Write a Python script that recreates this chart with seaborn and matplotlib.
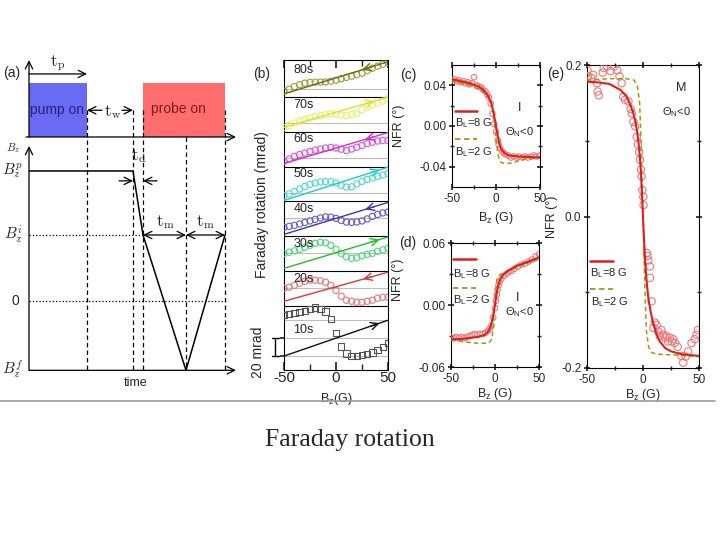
import numpy as np
import pandas as pd
import matplotlib
matplotlib.use('Agg')
import matplotlib.pyplot as plt
from matplotlib.lines import Line2D
import seaborn as sns

# ---------------- data ----------------
# (a) timing schematic: time in arbitrary units, field in units of B_z^i
pump_on = [0.0, 5.8]
probe_on = [11.4, 19.6]
t_wait_end = 10.4
t_turn = 15.7
t_axis_end = 20.7
b_final, b_zero, b_init, b_pump = -1.05, 0.0, 1.0, 1.97
pulse_base, pulse_top = 2.485, 3.30
field_t = [0.0, t_wait_end, probe_on[0], t_turn, probe_on[1]]
field_b = [b_pump, b_pump, b_init, b_final, b_init]

# (b) Faraday rotation traces (mrad, relative to the bottom of each strip)
b_field = [-50, -45, -40, -35, -30, -25, -20, -15, -10, -5, 0,
           5, 10, 15, 20, 25, 30, 35, 40, 45, 50]
b_labels = ['10s', '20s', '30s', '40s', '50s', '60s', '70s', '80s']
b_offsets = [0, 73, 113, 153, 193, 233, 273, 313]
b_traces = [
    [63, 64, 65, 66, 68, 70, 71.5, 70, 67, 58, 42, 27, 19, 16, 16, 17, 18, 20, 23, 26, 31],
    [20.6, 21.8, 24, 26.3, 28.6, 29.8, 29.8, 29.2, 27.5, 24, 18.3, 11.5, 6.9, 5.7, 4.6, 4.6, 5.7, 6.9, 9.2, 10.3, 10.3],
    [20.6, 21.8, 23.5, 25.2, 27.5, 29.8, 32.1, 33.2, 32.6, 29.8, 25.2, 20.6, 16.6, 14.9, 15.5, 17.7, 19.5, 20.6, 22.9, 24.6, 26.3],
    [10.3, 11.5, 12.6, 14.3, 16.0, 17.7, 19.5, 21.2, 22.3, 22.1, 20.6, 18.3, 16.4, 16.0, 16.6, 17.7, 20.0, 22.9, 25.2, 26.9, 27.8],
    [6.3, 8.6, 11.5, 14.3, 17.2, 19.5, 21.2, 22.3, 22.9, 22.9, 21.2, 18.3, 16.4, 16.8, 20.0, 22.9, 25.2, 26.9, 28.6, 30.3, 32.1],
    [6.3, 8.6, 11.5, 13.7, 15.5, 17.2, 18.9, 20.0, 21.2, 22.0, 21.2, 19.8, 18.3, 20.0, 22.0, 24.0, 26.3, 27.8, 29.2, 29.8, 29.8],
    [4.6, 6.9, 9.7, 12.0, 13.7, 15.5, 17.2, 18.3, 19.5, 20.6, 20.0, 18.9, 18.3, 19.5, 20.6, 25.2, 28.0, 30.3, 32.6, 34.9, 37.8],
    [6.3, 8.6, 11.5, 13.7, 15.5, 16.4, 16.6, 16.6, 16.9, 17.7, 18.9, 20.6, 22.1, 23.5, 25.2, 26.9, 29.8, 32.6, 34.9, 37.2, 39.3],
]
b_sweeps = [(16, 57), (5.7, 39), (3.4, 39.3), (2.3, 38.9), (1.1, 39.3), (3.4, 38.9), (4.9, 39.5), (3.1, 40)]
b_arrow_at = [42, 26, 42, 28, 42, 28, 37, 25]
b_arrow_dir = [1, -1, 1, -1, 1, -1, 1, -1]
b_grid = [16, 37, 57, 94, 134, 174, 203, 243, 283, 322]
b_mcolors = ['#555555', '#e87878', '#4cd97a', '#6a5acd', '#4fd8d8', '#dd55dd', '#eded66', '#9c9c40']
b_lcolors = ['#111111', '#d93a3a', '#22c322', '#3a3aaa', '#22cccc', '#cc33cc', '#e0e030', '#6b6b10']

# (c) NFR, I, B_L = 8 G data
c_x = [-50, -47, -45, -42, -40, -37, -35, -32, -30, -27, -25, -22, -20, -17, -15, -12, -10, -8, -6, -4,
       -2, 0, 2, 3, 5, 7, 9, 11, 14, 17, 20, 23, 26, 30, 33, 36, 40, 43, 46, 50]
c_y = [0.045, 0.046, 0.044, 0.045, 0.043, 0.044, 0.042, 0.043, 0.041, 0.042, 0.048, 0.040, 0.039, 0.038,
       0.036, 0.034, 0.031, 0.028, 0.022, 0.012, 0.002, -0.006, -0.014, -0.018, -0.022, -0.025, -0.027,
       -0.028, -0.029, -0.031, -0.030, -0.031, -0.030, -0.031, -0.030, -0.031, -0.030, -0.029, -0.030, -0.029]
c_fit_x = [-50, -40, -30, -20, -15, -10, -6, -3, 0, 2, 4, 6, 10, 15, 25, 50]
c_fit_y = [0.046, 0.044, 0.042, 0.039, 0.036, 0.031, 0.024, 0.014, 0.0, -0.010, -0.018, -0.023,
           -0.027, -0.029, -0.030, -0.031]
c_dash_x = [-50, -30, -15, -9, -6, -4, -2, 0, 2, 4, 6, 12, 20, 30, 50]
c_dash_y = [0.044, 0.040, 0.034, 0.030, 0.026, 0.018, 0.005, -0.012, -0.027, -0.034, -0.036, -0.037,
            -0.036, -0.033, -0.031]

# (d)
d_x = [-50, -47, -44, -41, -38, -35, -32, -29, -26, -23, -20, -17, -14, -11, -8, -6, -4, -2, 0, 1,
       2, 3, 4, 5, 7, 10, 13, 16, 19, 22, 26, 30, 34, 38, 42, 46, 50]
d_y = [-0.031, -0.032, -0.031, -0.032, -0.031, -0.032, -0.031, -0.030, -0.029, -0.028, -0.029, -0.028,
       -0.028, -0.027, -0.025, -0.023, -0.020, -0.012, -0.003, 0.004, 0.010, 0.015, 0.019, 0.022, 0.025,
       0.028, 0.030, 0.032, 0.033, 0.035, 0.037, 0.039, 0.040, 0.042, 0.044, 0.047, 0.049]
d_fit_x = [-50, -40, -30, -20, -12, -8, -5, -3, -1, 0, 2, 4, 6, 10, 15, 25, 35, 50]
d_fit_y = [-0.033, -0.033, -0.032, -0.031, -0.029, -0.026, -0.021, -0.014, -0.005, 0.0, 0.012, 0.020,
           0.025, 0.030, 0.033, 0.038, 0.041, 0.046]
d_dash_x = [-50, -30, -20, -8, -5, -3, -2, -1, 0, 1, 2, 3, 5, 10, 20, 35, 50]
d_dash_y = [-0.034, -0.036, -0.037, -0.037, -0.035, -0.030, -0.020, -0.008, 0.005, 0.016, 0.024, 0.027,
            0.029, 0.031, 0.035, 0.040, 0.044]

# (e)
e_x = [-49.5, -49, -46, -44.5, -41, -40.5, -39.5, -36, -35, -32, -29, -26, -23, -21, -19, -17.6, -16, -13,
       -11, -10, -8.5, -7, -5.6, -4.5, -3.5, -2.7, -1.8, -1.2, -0.6, 0.3, 0.5, 3.3, 4.2, 4.8, 6.2, 6.2,
       7.7, 9.2, 10.5, 12.2, 13.6, 15.1, 16.5, 18, 19.5, 21, 22.5, 24, 25.5, 27, 28.5, 31, 34.4, 35.9,
       38, 40.3, 43.3, 46.2, 47.7, 49]
e_y = [0.193, 0.185, 0.183, 0.187, 0.176, 0.165, 0.160, 0.190, 0.196, 0.198, 0.192, 0.198, 0.193, 0.185,
       0.176, 0.158, 0.154, 0.152, 0.142, 0.136, 0.125, 0.119, 0.105, 0.095, 0.085, 0.075, 0.062, 0.053,
       0.035, 0.026, 0.015, -0.048, -0.052, -0.058, -0.066, -0.081, -0.112, -0.147, -0.140, -0.143,
       -0.152, -0.158, -0.150, -0.156, -0.160, -0.158, -0.165, -0.160, -0.165, -0.162, -0.167, -0.172,
       -0.184, -0.193, -0.185, -0.178, -0.167, -0.162, -0.156, -0.150]
e_fit_x = [-50, -40, -30, -20, -15, -12, -9, -7, -5, -4, -3, -2, -1, 0, 1, 2, 3, 4, 5, 7, 9, 12, 15, 20, 25, 35, 50]
e_fit_y = [0.178, 0.177, 0.175, 0.167, 0.159, 0.150, 0.138, 0.127, 0.110, 0.097, 0.082, 0.062, 0.033, 0.0,
           -0.033, -0.061, -0.082, -0.097, -0.110, -0.127, -0.140, -0.155, -0.165, -0.174, -0.178, -0.182, -0.184]
e_dash_x = [-50, -30, -15, -8, -5, -3, -2, -1, 0, 1, 2, 3, 5, 8, 15, 30, 50]
e_dash_y = [0.180, 0.182, 0.182, 0.180, 0.172, 0.150, 0.110, 0.055, 0.0, -0.055, -0.110, -0.150, -0.172,
            -0.180, -0.182, -0.183, -0.185]

# ---------------- style ----------------
sns.set_theme(style='ticks')
plt.rcParams['font.family'] = ['Liberation Sans', 'DejaVu Sans']
plt.rcParams['mathtext.default'] = 'regular'
plt.rcParams['axes.linewidth'] = 0.8
plt.rcParams['axes.edgecolor'] = 'black'
plt.rcParams['axes.unicode_minus'] = False

W, H = 720, 540


def box(left, top, right, bottom):
    return [left / W, 1 - bottom / H, (right - left) / W, (bottom - top) / H]


def arrow(ax, start, end, style='->', lw=0.9, color='black'):
    ax.annotate('', xy=end, xytext=start,
                arrowprops=dict(arrowstyle=style + ',head_length=0.45,head_width=0.22',
                                color=color, lw=lw, shrinkA=0, shrinkB=0))


fig = plt.figure(figsize=(7.2, 5.4), dpi=100)

# ---------------- (a) ----------------
ax_a = fig.add_axes(box(29, 55, 240, 395))
ax_a.set_xlim(0, 21.1)
ax_a.set_ylim(-1.424, 3.727)
ax_a.axis('off')

ax_a.fill_between(pump_on, pulse_base, pulse_top, color='#6a6af4', lw=0)
ax_a.fill_between(probe_on, pulse_base, pulse_top, color='#ff6e6e', lw=0)
ax_a.text(2.75, 2.89, 'pump on', color='#23237a', fontsize=10, ha='center', va='center')
ax_a.text(14.9, 2.91, 'probe on', color='#7d1d1d', fontsize=10, ha='center', va='center')

arrow(ax_a, (-0.3, pulse_base), (t_axis_end, pulse_base))
arrow(ax_a, (0, pulse_base), (0, 3.65))
arrow(ax_a, (0, b_final), (t_axis_end, b_final))
arrow(ax_a, (0, b_final), (0, 2.35))

dash = (0, (3.5, 2.5))
for t in [pump_on[1], t_wait_end, probe_on[0], probe_on[1]]:
    ax_a.plot([t, t], [2.89, b_final], color='black', lw=0.9, ls=dash)
ax_a.plot([t_turn, t_turn], [pulse_base, b_final], color='black', lw=0.9, ls=dash)
ax_a.plot([0, probe_on[0]], [b_init, b_init], color='black', lw=0.9, ls=':')
ax_a.plot([0, probe_on[1] + 0.2], [b_zero, b_zero], color='black', lw=0.9, ls=':')

sns.lineplot(x=field_t, y=field_b, ax=ax_a, sort=False, estimator=None, color='black', lw=1.1)

tkw = dict(math_fontfamily='cm', fontsize=12, ha='center', va='center')
arrow(ax_a, (0, 3.44), (pump_on[1], 3.44))
ax_a.text(2.9, 3.60, r'$\mathrm{t_p}$', **tkw)
arrow(ax_a, (7.3, 2.89), (pump_on[1], 2.89))
arrow(ax_a, (9.3, 2.89), (t_wait_end, 2.89))
ax_a.text(8.4, 2.87, r'$\mathrm{t_w}$', **tkw)
arrow(ax_a, (9.0, 1.82), (t_wait_end, 1.82))
arrow(ax_a, (12.8, 1.82), (probe_on[0], 1.82))
ax_a.text(10.95, 2.2, r'$\mathrm{t_d}$', **tkw)
arrow(ax_a, (probe_on[0], b_init), (t_turn, b_init), style='<->')
arrow(ax_a, (t_turn, b_init), (probe_on[1], b_init), style='<->')
ax_a.text(13.6, 1.2, r'$\mathrm{t_m}$', **tkw)
ax_a.text(17.6, 1.2, r'$\mathrm{t_m}$', **tkw)

lkw = dict(math_fontfamily='cm', fontsize=11, ha='right', va='center')
ax_a.text(-0.6, b_pump, r'$\mathit{B_z^p}$', **lkw)
ax_a.text(-0.6, b_init, r'$\mathit{B_z^i}$', **lkw)
ax_a.text(-1.4, b_zero, '0', fontsize=10, ha='center', va='center')
ax_a.text(-0.6, b_final, r'$\mathit{B_z^f}$', **lkw)
ax_a.text(-1.6, 2.32, r'$\mathit{B_z}$', math_fontfamily='cm', fontsize=8, ha='center', va='center')
ax_a.text(-1.7, 3.45, '(a)', fontsize=10, ha='center', va='center')
ax_a.text(10.7, -1.24, 'time', fontsize=9, ha='center', va='center')

# ---------------- (b) ----------------
ax_b = fig.add_axes(box(284, 60, 388, 370))
for yg in b_grid:
    ax_b.axhline(yg, color='#bdbdbd', lw=0.8, zorder=0)
for off in b_offsets[1:]:
    ax_b.axhline(off, color='black', lw=0.8, zorder=1)

for i, lab in enumerate(b_labels):
    off = b_offsets[i]
    df = pd.DataFrame({'B': b_field, 'rot': np.array(b_traces[i]) + off})
    sns.scatterplot(data=df, x='B', y='rot', ax=ax_b, marker='s' if i == 0 else 'o', s=20,
                    facecolor='none', edgecolor=b_mcolors[i], linewidth=0.8, legend=False, zorder=3)
    sweep = np.array(b_sweeps[i]) + off
    sns.lineplot(x=[-50, 50], y=sweep, ax=ax_b, color=b_lcolors[i], lw=1.0, zorder=4)
    g = b_arrow_at[i]
    g0 = g - 9 * b_arrow_dir[i]
    arrow(ax_b, (g0, np.interp(g0, [-50, 50], sweep)), (g, np.interp(g, [-50, 50], sweep)),
          lw=1.0, color=b_lcolors[i])
    ax_b.text(-41, off + (46 if i == 0 else 31), lab, fontsize=9, ha='left', va='center')

ax_b.set_xlim(-50, 50)
ax_b.set_ylim(0, 355)
ax_b.set_xticks([-50, 0, 50])
ax_b.set_xticks([-25, 25], minor=True)
ax_b.set_yticks([16, 37])
ax_b.set_yticklabels([])
ax_b.tick_params(axis='x', which='both', direction='in', top=True, labelsize=11, pad=1)
ax_b.tick_params(axis='y', direction='out', length=3)
ax_b.set_xlabel('B$_z$(G)', fontsize=9)
ax_b.xaxis.set_label_coords(0.5, -0.068)
ax_b.set_ylabel('')
ax_b.plot([-58.5, -58.5], [16, 36.6], color='black', lw=1, clip_on=False)
ax_b.plot([-62, -55], [16, 16], color='black', lw=1, clip_on=False)
ax_b.plot([-62, -55], [36.6, 36.6], color='black', lw=1, clip_on=False)
fig.text(262 / W, 1 - 205 / H, 'Faraday rotation (mrad)', rotation=90, fontsize=10, ha='center', va='center')
fig.text(258 / W, 1 - 352 / H, '20 mrad', rotation=90, fontsize=10, ha='center', va='center')
fig.text(262 / W, 1 - 74 / H, '(b)', fontsize=10, ha='center', va='center')


# ---------------- (c), (d), (e) ----------------
def nfr_panel(ax, x, y, fx, fy, dx, dy, size):
    sns.scatterplot(x=x, y=y, ax=ax, marker='o', s=size, facecolor='none', edgecolor='#f07878',
                    linewidth=0.8, legend=False, zorder=3)
    sns.lineplot(x=dx, y=dy, ax=ax, color='#9a9a1a', lw=1.1, linestyle=(0, (3, 2)), zorder=4)
    sns.lineplot(x=fx, y=fy, ax=ax, color='#dd1f1f', lw=1.5, zorder=5)
    ax.set_xlim(-50, 50)
    ax.set_xticks([-50, 0, 50])
    ax.set_xticks([-25, 25], minor=True)
    ax.tick_params(which='both', direction='inout', top=True, right=True, labelsize=8.5, length=4, pad=2)
    ax.tick_params(which='minor', length=3)
    ax.set_xlabel('B$_z$ (G)', fontsize=9)
    ax.set_ylabel('NFR (°)', fontsize=9)


def nfr_legend(ax, xs, ys, fs=8):
    ax.add_line(Line2D(xs[:2], [ys[0]] * 2, transform=ax.transAxes, color='#dd1f1f', lw=1.8))
    ax.text(xs[0], ys[1], 'B$_L$=8 G', transform=ax.transAxes, fontsize=fs, va='center', ha='left')
    ax.add_line(Line2D(xs[:2], [ys[2]] * 2, transform=ax.transAxes, color='#9a9a1a', lw=1.3,
                       ls=(0, (3, 2))))
    ax.text(xs[2], ys[3], 'B$_L$=2 G', transform=ax.transAxes, fontsize=fs, va='center', ha='left')


ax_c = fig.add_axes(box(452, 65, 540, 187))
nfr_panel(ax_c, c_x, c_y, c_fit_x, c_fit_y, c_dash_x, c_dash_y, 16)
ax_c.set_ylim(-0.06, 0.06)
ax_c.set_yticks([-0.04, 0.0, 0.04])
ax_c.set_yticklabels(['-0.04', '0.00', '0.04'])
ax_c.set_yticks([-0.02, 0.02], minor=True)
ax_c.yaxis.set_label_coords(-0.53, 0.5)
ax_c.xaxis.set_label_coords(0.5, -0.19)
nfr_legend(ax_c, [0.03, 0.28, 0.03], [0.623, 0.525, 0.393, 0.287])
ax_c.text(0.77, 0.65, 'I', transform=ax_c.transAxes, fontsize=9, ha='center', va='center')
ax_c.text(0.77, 0.45, 'Θ$_N$<0', transform=ax_c.transAxes, fontsize=8, ha='center', va='center')
fig.text(408 / W, 1 - 75 / H, '(c)', fontsize=10, ha='center', va='center')

ax_d = fig.add_axes(box(451, 243, 539, 367))
nfr_panel(ax_d, d_x, d_y, d_fit_x, d_fit_y, d_dash_x, d_dash_y, 16)
ax_d.set_ylim(-0.06, 0.06)
ax_d.set_yticks([-0.06, 0.0, 0.06])
ax_d.set_yticklabels(['-0.06', '0.00', '0.06'])
ax_d.set_yticks([-0.03, 0.03], minor=True)
ax_d.yaxis.set_label_coords(-0.53, 0.70)
ax_d.xaxis.set_label_coords(0.5, -0.15)
nfr_legend(ax_d, [0.02, 0.28, 0.02], [0.871, 0.75, 0.637, 0.54])
ax_d.text(0.76, 0.556, 'I', transform=ax_d.transAxes, fontsize=9, ha='center', va='center')
ax_d.text(0.78, 0.444, 'Θ$_N$<0', transform=ax_d.transAxes, fontsize=8, ha='center', va='center')
fig.text(408 / W, 1 - 243 / H, '(d)', fontsize=10, ha='center', va='center')

ax_e = fig.add_axes(box(587, 65, 699, 368))
nfr_panel(ax_e, e_x, e_y, e_fit_x, e_fit_y, e_dash_x, e_dash_y, 28)
ax_e.set_ylim(-0.2, 0.2)
ax_e.set_yticks([-0.2, 0.0, 0.2])
ax_e.set_yticklabels(['-0.2', '0.0', '0.2'])
ax_e.set_yticks([-0.1, 0.1], minor=True)
ax_e.yaxis.set_label_coords(-0.26, 0.5)
ax_e.xaxis.set_label_coords(0.5, -0.062)
nfr_legend(ax_e, [0.03, 0.23, 0.04], [0.353, 0.314, 0.261, 0.218])
ax_e.text(0.84, 0.924, 'M', transform=ax_e.transAxes, fontsize=9, ha='center', va='center')
ax_e.text(0.80, 0.845, 'Θ$_N$<0', transform=ax_e.transAxes, fontsize=8, ha='center', va='center')
fig.text(556 / W, 1 - 74 / H, '(e)', fontsize=10, ha='center', va='center')

# ---------------- separator and caption ----------------
fig.add_artist(Line2D([0, 715 / W], [1 - 401 / H, 1 - 401 / H], color='#9a9a9a', lw=1.2))
fig.text(350 / W, 1 - 440 / H, 'Faraday rotation', family='Liberation Serif', fontsize=18.5,
         ha='center', va='center')

fig.savefig('out.png', dpi=100)
